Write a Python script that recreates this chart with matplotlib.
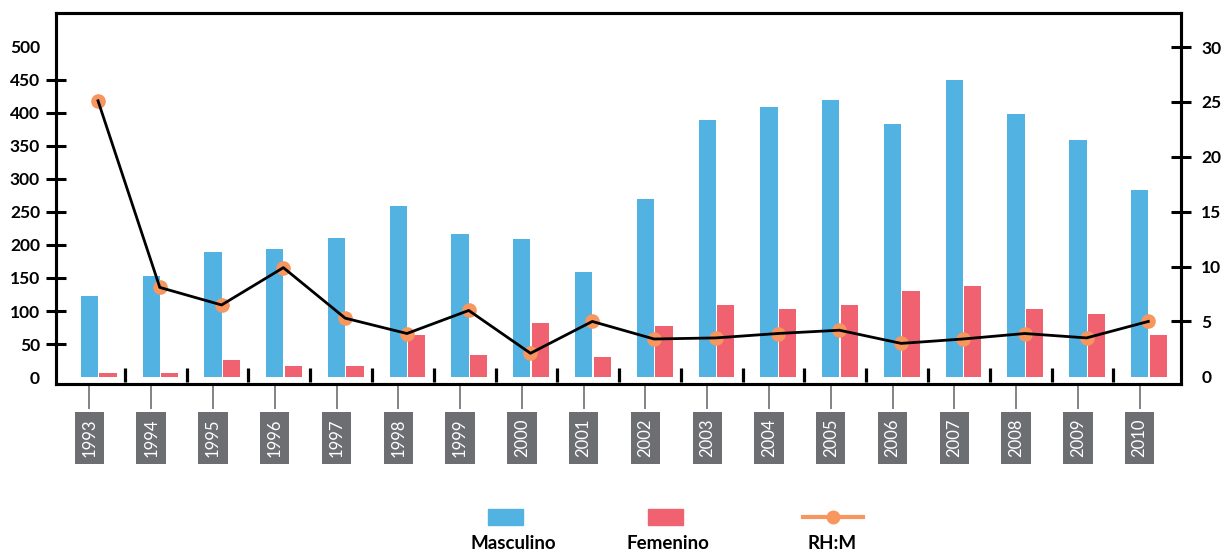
import matplotlib

matplotlib.use("Agg")
import matplotlib.pyplot as plt
import numpy as np
from matplotlib.lines import Line2D
from matplotlib.patches import Rectangle

plt.rcParams["font.family"] = ["Lato", "DejaVu Sans"]

years = [str(y) for y in range(1993, 2011)]
masculino = [122, 153, 189, 194, 210, 259, 217, 209, 159, 270,
             389, 409, 420, 383, 450, 398, 359, 283]
femenino = [6, 6, 26, 17, 17, 64, 33, 82, 30, 77,
            109, 103, 109, 130, 138, 103, 95, 64]
rh_m = [25.1, 8.1, 6.5, 9.9, 5.3, 3.9, 6.0, 2.1, 5.0, 3.4,
        3.5, 3.9, 4.2, 3.0, 3.4, 3.9, 3.5, 5.0]

BLUE = "#52b2e2"
RED = "#f06270"
ORANGE = "#f7965e"
GREY = "#6d6e71"

x = np.arange(len(years))

fig = plt.figure(figsize=(12.23, 5.55), dpi=100)
ax = fig.add_axes([0.0458, 0.3081, 0.9199, 0.6685])

ax.bar(x, masculino, width=0.28, color=BLUE, zorder=2)
ax.bar(x + 0.30, femenino, width=0.28, color=RED, zorder=2)

# separators between year groups
seps = x[:-1] + 0.575
ax.vlines(seps, -8, 14, color="black", lw=2.3, zorder=3,
          capstyle="butt")

ax.set_xlim(-0.54, 17.67)
ax.set_ylim(-10.6, 551.5)
ax.set_yticks(np.arange(50, 451, 50))
ax.set_yticks([0, 500], labels=["0", "500"], minor=True)
ax.tick_params(axis="y", which="major", direction="inout", length=15,
               width=2.2, pad=4, labelsize=12.5)
ax.tick_params(axis="y", which="minor", length=0, pad=11.5, labelsize=12.5)
for lbl in ax.get_yticklabels() + ax.get_yticklabels(minor=True):
    lbl.set_fontweight("bold")

ax.set_xticks(x)
ax.set_xticklabels(years, rotation=90, color="white", fontsize=12,
                   va="top", ha="center")
for lbl in ax.get_xticklabels():
    lbl.set_bbox(dict(boxstyle="square,pad=0.4", fc=GREY, ec="none"))
ax.tick_params(axis="x", direction="out", length=18, width=1.2, color=GREY,
               pad=7)

for s in ax.spines.values():
    s.set_linewidth(2.2)

ax2 = ax.twinx()
ax2.set_ylim(-0.7, 33.1)
ax2.set_yticks(np.arange(5, 31, 5))
ax2.set_yticks([0], labels=["0"], minor=True)
ax2.tick_params(axis="y", which="major", direction="inout", length=15,
                width=2.2, pad=7, labelsize=12.5)
ax2.tick_params(axis="y", which="minor", length=0, pad=14.5, labelsize=12.5)
for lbl in ax2.get_yticklabels() + ax2.get_yticklabels(minor=True):
    lbl.set_fontweight("bold")
for s in ax2.spines.values():
    s.set_linewidth(2.2)

ax2.plot(x + 0.14, rh_m, "o", color=ORANGE, markersize=9.5, zorder=3)
ax2.plot(x + 0.14, rh_m, color="black", lw=2, zorder=4)

# legend drawn below, labels under the handles
fig.add_artist(Rectangle((0.399, 0.054), 0.0286, 0.029, color=BLUE,
                         transform=fig.transFigure))
fig.add_artist(Rectangle((0.530, 0.054), 0.0286, 0.029, color=RED,
                         transform=fig.transFigure))
fig.add_artist(Line2D([0.6566, 0.7057], [0.0685, 0.0685], color=ORANGE, lw=3,
                      transform=fig.transFigure))
fig.add_artist(Line2D([0.681], [0.0685], marker="o", color=ORANGE,
                      markersize=9, transform=fig.transFigure))
for xc, txt in [(0.420, "Masculino"), (0.546, "Femenino"), (0.680, "RH:M")]:
    fig.text(xc, 0.011, txt, ha="center", va="baseline", fontsize=13.5,
             fontweight="bold")

fig.savefig("out.png", dpi=100)
